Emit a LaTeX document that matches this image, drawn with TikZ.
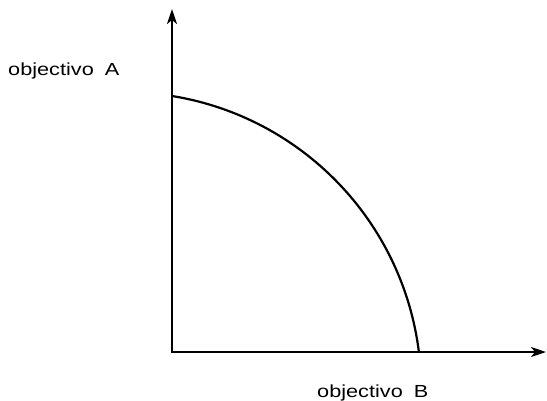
\documentclass[tikz,border=0pt]{standalone}
\usepackage{fontspec}
\setmainfont{Liberation Sans}
\usetikzlibrary{arrows.meta}
\tikzset{
  axis/.style={line width=2.2pt, -{Stealth[length=15pt,width=10pt,inset=4pt]}},
  curve/.style={line width=2.2pt},
  lbl/.style={anchor=base west, inner sep=0pt, font=\fontsize{17.5}{20}\selectfont}
}
\begin{document}
\begin{tikzpicture}[x=1pt,y=-1pt]
\useasboundingbox (0,0) rectangle (547,400);
\coordinate (O) at (172,352);
\coordinate (ytip) at (172,9);
\coordinate (xtip) at (546,352);
\coordinate (A) at (172,96);
\coordinate (B) at (419,352);
\draw[axis] ([yshift=-1.1pt]O) -- (ytip);
\draw[axis] ([xshift=-1.1pt]O) -- (xtip);
\draw[curve] (A) arc[start angle=-80.8, end angle=-7.1, radius=296.6];
\node[lbl] (la) at (8,75) {\scalebox{1.24}[1]{objectivo\hspace{9pt}A}};
\node[lbl] (lb) at (317,397) {\scalebox{1.24}[1]{objectivo\hspace{9pt}B}};
\end{tikzpicture}
\end{document}
